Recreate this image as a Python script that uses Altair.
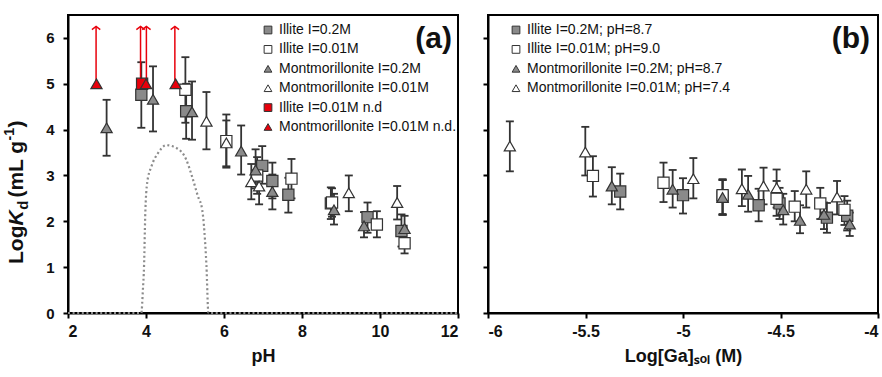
import altair as alt
import pandas as pd

FONT = "Liberation Sans"

# ---------------- Panel (a): LogKd vs pH ----------------
ill02_ph = [3.88, 5.03, 6.98, 7.24, 7.65, 8.74, 9.68, 10.55]
ill02_kd = [4.76, 4.40, 3.21, 2.88, 2.58, 2.39, 2.09, 1.79]
ill02_lo = [4.04, 3.80, 2.82, 2.50, 2.19, 2.05, 1.75, 1.45]
ill02_hi = [5.47, 5.00, 3.64, 3.28, 2.95, 2.74, 2.41, 2.15]

ill001_ph = [5.01, 6.06, 6.85, 7.73, 8.77, 9.92, 10.63]
ill001_kd = [4.87, 3.75, 3.00, 2.93, 2.41, 1.93, 1.52]
ill001_lo = [4.15, 3.17, 2.60, 2.50, 2.10, 1.65, 1.30]
ill001_hi = [5.58, 4.33, 3.40, 3.36, 2.72, 2.22, 1.75]

mont02_ph = [2.99, 4.18, 5.18, 6.44, 6.81, 7.24, 8.82, 9.59, 10.63]
mont02_kd = [4.04, 4.66, 4.39, 3.53, 3.12, 2.65, 2.25, 1.90, 1.84]
mont02_lo = [3.43, 3.96, 3.78, 3.02, 2.72, 2.26, 1.93, 1.65, 1.55]
mont02_hi = [4.65, 5.38, 5.05, 4.09, 3.57, 3.02, 2.60, 2.20, 2.12]

mont001_ph = [5.55, 6.06, 6.70, 6.90, 9.20, 10.44]
mont001_kd = [4.18, 3.71, 2.86, 2.77, 2.62, 2.41]
mont001_lo = [3.57, 3.20, 2.48, 2.37, 2.22, 2.04]
mont001_hi = [4.82, 4.20, 3.25, 3.15, 3.00, 2.77]

ill_nd_ph = [3.90]
ill_nd_kd = [5.00]
mont_nd_ph = [2.73, 4.00, 4.76]
mont_nd_kd = [5.00, 5.00, 5.00]

arrow_ph = [2.72, 3.86, 4.01, 4.74]
arrow_base = [5.00, 5.00, 5.00, 5.00]
arrow_tip = [6.25, 6.25, 6.25, 6.25]

curve_ph = [2.0, 3.0, 3.88, 3.92, 3.95, 3.98, 4.03, 4.14, 4.31, 4.52,
            4.78, 5.03, 5.18, 5.33, 5.44, 5.50, 5.55, 5.60, 6.0, 12.0]
curve_kd = [0.0, 0.0, 0.0, 0.5, 1.03, 2.12, 2.84, 3.20, 3.49, 3.66,
            3.60, 3.35, 2.98, 2.55, 2.26, 1.75, 1.03, 0.0, 0.0, 0.0]

names_a = ["Illite I=0.2M", "Illite I=0.01M", "Montmorillonite I=0.2M",
           "Montmorillonite I=0.01M", "Illite I=0.01M n.d",
           "Montmorillonite I=0.01M n.d."]

# ---------------- Panel (b): LogKd vs Log[Ga]sol ----------------
ill02_ga = [-5.322, -5.000, -4.797, -4.612, -4.505, -4.262, -4.158]
ill02_kdb = [2.65, 2.57, 2.54, 2.35, 2.39, 2.08, 2.12]
ill02_lob = [2.26, 2.17, 2.14, 2.00, 2.05, 1.75, 1.80]
ill02_hib = [3.04, 2.94, 2.90, 2.71, 2.73, 2.40, 2.45]

ill001_ga = [-5.462, -5.100, -4.797, -4.520, -4.427, -4.296, -4.172]
ill001_kdb = [2.99, 2.84, 2.57, 2.49, 2.32, 2.39, 2.25]
ill001_lob = [2.54, 2.42, 2.16, 2.12, 2.00, 2.05, 1.92]
ill001_hib = [3.42, 3.28, 2.92, 2.88, 2.66, 2.73, 2.55]

mont02_ga = [-5.365, -5.053, -4.797, -4.666, -4.486, -4.400, -4.277, -4.145]
mont02_kdb = [2.77, 2.70, 2.52, 2.59, 2.25, 2.02, 2.15, 1.94]
mont02_lob = [2.37, 2.30, 2.14, 2.21, 1.93, 1.74, 1.83, 1.68]
mont02_hib = [3.18, 3.12, 2.90, 2.99, 2.60, 2.35, 2.41, 2.19]

mont001_ga = [-5.888, -5.501, -4.947, -4.698, -4.587, -4.520, -4.368, -4.210]
mont001_kdb = [3.64, 3.51, 2.93, 2.71, 2.77, 2.73, 2.70, 2.53]
mont001_lob = [3.09, 3.00, 2.50, 2.33, 2.37, 2.30, 2.30, 2.15]
mont001_hib = [4.18, 4.06, 3.38, 3.13, 3.17, 3.13, 3.09, 2.88]

names_b = ["Illite I=0.2M; pH=8.7", "Illite I=0.01M; pH=9.0",
           "Montmorillonite I=0.2M; pH=8.7", "Montmorillonite I=0.01M; pH=7.4"]

# ---------------- styling ----------------
GRAY = "#8a8a8a"
RED = "#e8000b"
EDGE = "#333333"
ERR = "#333333"

fills_a = [GRAY, "white", GRAY, "white", RED, RED]
strokes_a = [EDGE, EDGE, EDGE, EDGE, EDGE, EDGE]
shapes_a = ["square", "square", "triangle-up", "triangle-up", "square", "triangle-up"]


def frame(series_list):
    rows = []
    for name, xs, ys, los, his in series_list:
        for i in range(len(xs)):
            rows.append({"series": name, "x": xs[i], "y": ys[i],
                         "lo": los[i] if los else None,
                         "hi": his[i] if his else None})
    return pd.DataFrame(rows)


df_a = frame([
    (names_a[0], ill02_ph, ill02_kd, ill02_lo, ill02_hi),
    (names_a[1], ill001_ph, ill001_kd, ill001_lo, ill001_hi),
    (names_a[2], mont02_ph, mont02_kd, mont02_lo, mont02_hi),
    (names_a[3], mont001_ph, mont001_kd, mont001_lo, mont001_hi),
    (names_a[4], ill_nd_ph, ill_nd_kd, None, None),
    (names_a[5], mont_nd_ph, mont_nd_kd, None, None),
])
df_a_err = df_a.dropna(subset=["lo"])

df_b = frame([
    (names_b[0], ill02_ga, ill02_kdb, ill02_lob, ill02_hib),
    (names_b[1], ill001_ga, ill001_kdb, ill001_lob, ill001_hib),
    (names_b[2], mont02_ga, mont02_kdb, mont02_lob, mont02_hib),
    (names_b[3], mont001_ga, mont001_kdb, mont001_lob, mont001_hib),
])

df_arrow = pd.DataFrame({"x": arrow_ph, "y0": arrow_base, "y1": arrow_tip})
df_curve = pd.DataFrame({"x": curve_ph, "y": curve_kd})

W, H = 390, 298
yscale = alt.Scale(domain=[0, 6.5], nice=False, zero=False)


def legend(x, y):
    return alt.Legend(orient="none", legendX=x, legendY=y, title=None,
                      labelFont=FONT, labelFontSize=14, labelFontWeight="normal",
                      labelColor="#111", labelLimit=0, symbolSize=60,
                      rowPadding=5.4, labelOffset=4, padding=0,
                      symbolStrokeWidth=1)


def panel(df, df_err, xscale, xaxis, yaxis, names, fills, strokes, shapes, leg):
    base = alt.Chart(df_err)
    rules = base.mark_rule(color=ERR, strokeWidth=1.8).encode(
        x=alt.X("x:Q", scale=xscale, axis=xaxis),
        y=alt.Y("lo:Q", scale=yscale, axis=yaxis),
        y2="hi:Q")
    cap_lo = base.mark_tick(orient="horizontal", size=8, thickness=1.8,
                            color=ERR, opacity=1).encode(
        x="x:Q", y="lo:Q")
    cap_hi = base.mark_tick(orient="horizontal", size=8, thickness=1.8,
                            color=ERR, opacity=1).encode(
        x="x:Q", y="hi:Q")
    pts = alt.Chart(df).mark_point(filled=True, opacity=1, size=125,
                                   strokeWidth=1.2).encode(
        x="x:Q", y="y:Q",
        shape=alt.Shape("series:N", scale=alt.Scale(domain=names, range=shapes),
                        legend=leg),
        fill=alt.Fill("series:N", scale=alt.Scale(domain=names, range=fills),
                      legend=leg),
        stroke=alt.Stroke("series:N", scale=alt.Scale(domain=names, range=strokes),
                          legend=leg),
    )
    return rules, cap_lo, cap_hi, pts


axis_common = dict(grid=False, labelFont=FONT, labelFontWeight="bold",
                   titleFont=FONT, titleFontWeight="bold", labelColor="#111",
                   titleColor="#111", domainColor="black", domainWidth=2,
                   tickColor="black", tickWidth=2, tickSize=5)

xaxis_a = alt.Axis(values=[2, 4, 6, 8, 10, 12], title="pH", labelFontSize=16,
                   titleFontSize=18, labelPadding=5, titlePadding=8, **axis_common)
yaxis_a = alt.Axis(values=[0, 1, 2, 3, 4, 5, 6], title=None, labelFontSize=15,
                   labelPadding=9, **axis_common)
xaxis_b = alt.Axis(values=[-6, -5.5, -5, -4.5, -4], title="Log[Ga]ₛₒₗ (M)",
                   labelExpr="'' + datum.value", labelFontSize=16,
                   titleFontSize=18, labelPadding=5, titlePadding=8, **axis_common)
yaxis_b = alt.Axis(values=[0, 1, 2, 3, 4, 5, 6], title=None, labels=False,
                   **axis_common)

xscale_a = alt.Scale(domain=[2, 12], nice=False, zero=False)
xscale_b = alt.Scale(domain=[-6, -4], nice=False, zero=False)

ra, cla, cha, pa = panel(df_a, df_a_err, xscale_a, xaxis_a, yaxis_a, names_a,
                         fills_a, strokes_a, shapes_a, legend(193, 8))

curve = alt.Chart(df_curve).mark_line(color="#8c8c8c", strokeWidth=2.2,
                                      strokeDash=[2, 2.6],
                                      interpolate="monotone").encode(
    x="x:Q", y="y:Q")
arrows = alt.Chart(df_arrow).mark_rule(color=RED, strokeWidth=1.5).encode(
    x="x:Q", y="y0:Q", y2="y1:Q")
heads = alt.Chart(df_arrow).mark_point(
    shape="M-1,0.75L0,0L1,0.75", filled=False, color=RED, size=70,
    strokeWidth=1.5, opacity=1).encode(x="x:Q", y="y1:Q")

label_a = alt.Chart(pd.DataFrame({"t": ["(a)"]})).mark_text(
    font=FONT, fontSize=30, fontWeight="bold", align="right",
    baseline="alphabetic", color="#111").encode(
    text="t:N", x=alt.value(384), y=alt.value(33))

# y-axis title built from pieces (italic K, subscript d, superscript -1)
title_pieces = [
    ("Log", 21, "normal", -45, 249),
    ("K", 21, "italic", -45, 210.5),
    ("d", 15, "normal", -40, 194.8),
    ("(mL g", 21, "normal", -45, 182.6),
    ("-1", 14, "normal", -54, 125.4),
    (")", 21, "normal", -45, 112.5),
]
title_layers = []
for txt, fs, style, px, py in title_pieces:
    title_layers.append(
        alt.Chart(pd.DataFrame({"t": [txt]})).mark_text(
            font=FONT, fontSize=fs, fontWeight="bold", fontStyle=style,
            angle=270, align="left", baseline="alphabetic", color="#111"
        ).encode(text="t:N", x=alt.value(px), y=alt.value(py))
    )

chart_a = alt.layer(curve, ra, cla, cha, arrows, heads, pa, label_a,
                    *title_layers).properties(width=W, height=H)

fills_b = [GRAY, "white", GRAY, "white"]
strokes_b = [EDGE] * 4
shapes_b = ["square", "square", "triangle-up", "triangle-up"]
rb, clb, chb, pb = panel(df_b, df_b, xscale_b, xaxis_b, yaxis_b, names_b,
                         fills_b, strokes_b, shapes_b, legend(21, 8))
label_b = alt.Chart(pd.DataFrame({"t": ["(b)"]})).mark_text(
    font=FONT, fontSize=30, fontWeight="bold", align="right",
    baseline="alphabetic", color="#111").encode(
    text="t:N", x=alt.value(382), y=alt.value(33))

chart_b = alt.layer(rb, clb, chb, pb, label_b).properties(width=W, height=H)

chart = alt.hconcat(chart_a, chart_b, spacing=30, bounds="flush").resolve_scale(
    shape="independent", fill="independent", stroke="independent"
).resolve_legend(
    shape="independent", fill="independent", stroke="independent"
).properties(
    padding={"left": 2, "top": 14, "right": 0, "bottom": 5},
    background="white",
).configure_view(stroke="black", strokeWidth=2)

chart.save("out.html", embed_options={"renderer": "svg", "actions": False})
